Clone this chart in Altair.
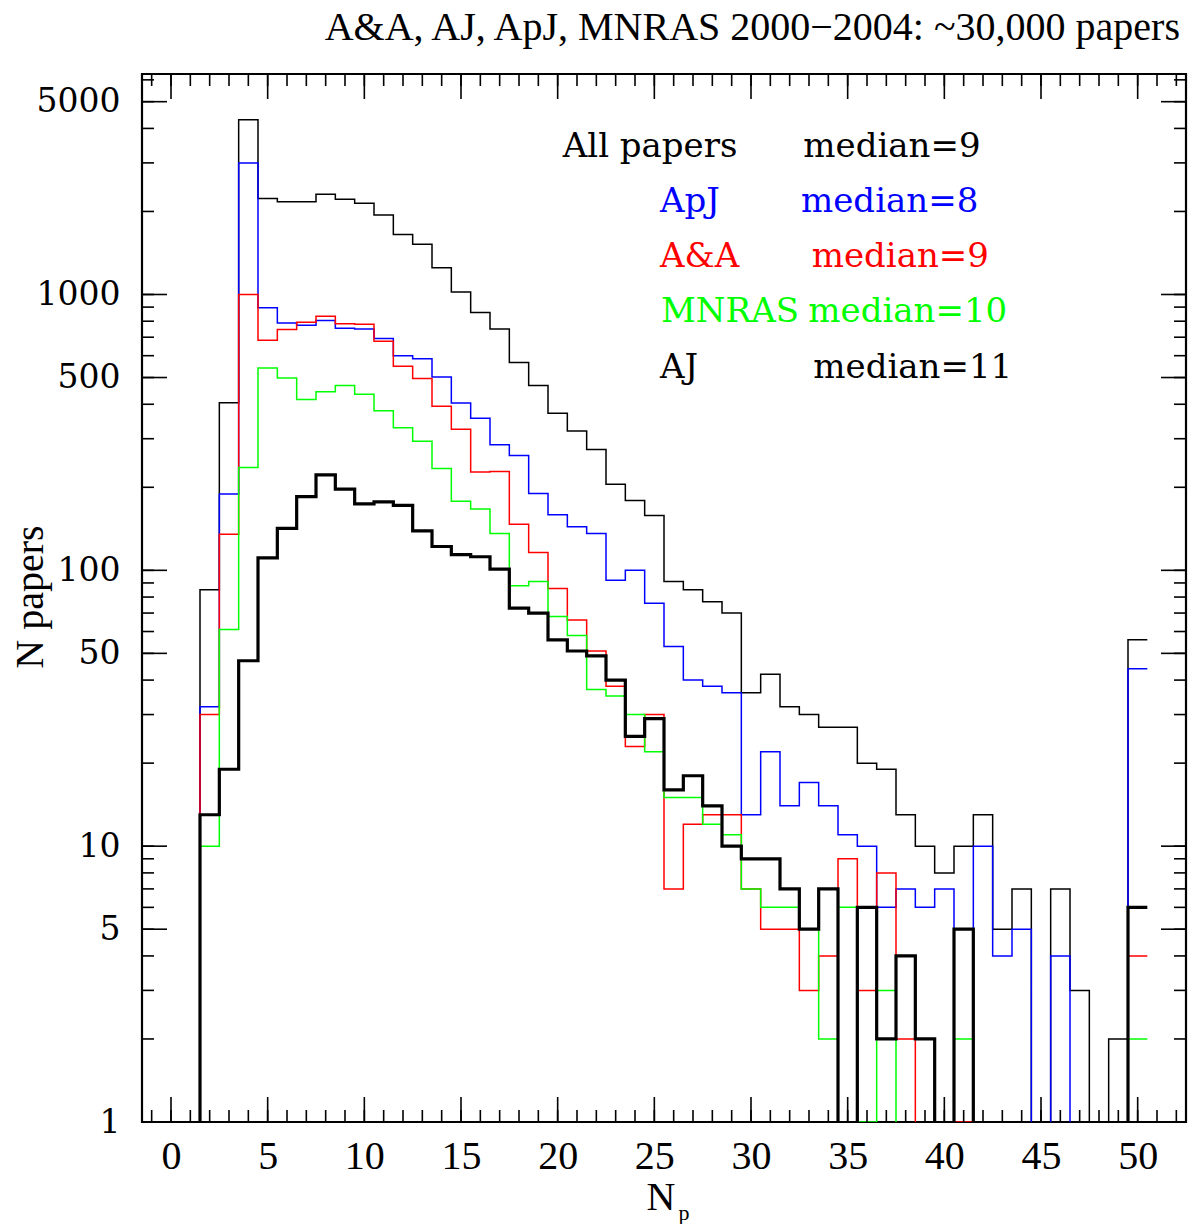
import altair as alt
import pandas as pd
import numpy as np

# ---- data (N papers per number of authors N_p = 1..50) ----
np_bins = list(range(1, 51))

all_papers = [0, 85, 405, 4300, 2230, 2170, 2170, 2310, 2215, 2140,
              1940, 1650, 1520, 1250, 1020, 860, 750, 567, 468, 371,
              320, 274, 205, 179, 158, 91, 85, 77, 70, 36,
              42, 32, 30, 27, 27, 20, 19, 13, 10, 8,
              10, 13, 5, 7, 0, 7, 3, 0, 2, 56]

apj = [0, 32, 189, 3000, 895, 789, 773, 804, 754, 750,
       692, 600, 585, 502, 404, 356, 285, 261, 190, 159,
       144, 136, 92, 100, 76, 53, 40, 38, 36, 13,
       22, 14, 17, 14, 11, 10, 6, 7, 6, 7,
       5, 10, 4, 5, 0, 4, 0, 0, 0, 44]

aa = [0, 30, 135, 1000, 682, 746, 793, 834, 784, 780,
      677, 549, 496, 393, 325, 227, 228, 147, 116, 86,
      66, 51, 38, 23, 30, 7, 12, 13, 13, 7,
      5, 5, 3, 4, 9, 3, 8, 2, 0, 0,
      1, 0, 0, 0, 0, 0, 0, 0, 0, 4]

mnras = [0, 10, 61, 236, 541, 498, 416, 444, 468, 435,
         379, 329, 294, 234, 178, 167, 136, 88, 91, 68,
         58, 37, 35, 30, 22, 15, 15, 12, 11, 7,
         6, 6, 5, 2, 6, 1, 3, 0, 0, 0,
         2, 0, 0, 0, 0, 0, 0, 0, 0, 2]

aj = [0, 13, 19, 47, 111, 142, 185, 222, 197, 174,
      177, 172, 139, 122, 114, 112, 101, 73, 70, 56,
      51, 49, 40, 25, 29, 16, 18, 14, 10, 9,
      9, 7, 5, 7, 0, 6, 2, 4, 2, 0,
      5, 0, 0, 0, 0, 0, 0, 0, 0, 6]

series_names = ["All papers", "ApJ", "A&A", "MNRAS", "AJ"]
series_values = [all_papers, apj, aa, mnras, aj]
series_colors = ["#000000", "#0000ff", "#ff0000", "#00ff00", "#000000"]
series_widths = [1.5, 1.5, 1.5, 1.5, 3.2]
medians = [9, 8, 9, 10, 11]

x_labels = list(range(0, 51, 5))
x_minor = list(range(-1, 53))
y_labels = [1, 5, 10, 50, 100, 500, 1000, 5000]
y_minor = [d * 10 ** k for k in range(4) for d in range(1, 10) if d * 10 ** k <= 6300]

W, H = 1044, 1048
XDOM = [-1.5, 52.5]
YDOM = [1, 6300]

xscale = alt.Scale(domain=XDOM, nice=False, zero=False)
yscale = alt.Scale(type="log", domain=YDOM, nice=False)


def step_df(vals):
    edges = [b - 0.5 for b in np_bins] + [np_bins[-1] + 0.5]
    v = list(vals) + [vals[-1]]
    plot_v = [x if x > 0 else 0.1 for x in v]
    return pd.DataFrame({"edge": edges, "n": plot_v})


layers = []
for name, vals, col, sw in zip(series_names, series_values, series_colors, series_widths):
    layers.append(
        alt.Chart(step_df(vals)).mark_line(
            interpolate="step-after", color=col, strokeWidth=sw, clip=True
        ).encode(
            x=alt.X("edge:Q", scale=xscale,
                    axis=alt.Axis(values=x_labels, ticks=False, domain=False, grid=False,
                                  labelFont="Liberation Serif", labelFontSize=40,
                                  labelColor="black", labelPadding=14, title=None)),
            y=alt.Y("n:Q", scale=yscale,
                    axis=alt.Axis(values=y_labels, format="d", ticks=False, domain=False, grid=False,
                                  labelFont="DejaVu Serif", labelFontSize=33,
                                  labelColor="black", labelPadding=22, title=None)),
        )
    )

tick_color = "black"
tw = 1.6
xmin_df = pd.DataFrame({"t": x_minor})
xmaj_df = pd.DataFrame({"t": x_labels})
ymin_df = pd.DataFrame({"t": y_minor})
ymaj_df = pd.DataFrame({"t": y_labels})

ticks = [
    alt.Chart(xmin_df).mark_rule(color=tick_color, strokeWidth=tw).encode(
        x=alt.X("t:Q", scale=xscale), y=alt.value(H), y2=alt.value(H - 12)),
    alt.Chart(xmin_df).mark_rule(color=tick_color, strokeWidth=tw).encode(
        x=alt.X("t:Q", scale=xscale), y=alt.value(0), y2=alt.value(12)),
    alt.Chart(xmaj_df).mark_rule(color=tick_color, strokeWidth=tw).encode(
        x=alt.X("t:Q", scale=xscale), y=alt.value(H), y2=alt.value(H - 25)),
    alt.Chart(xmaj_df).mark_rule(color=tick_color, strokeWidth=tw).encode(
        x=alt.X("t:Q", scale=xscale), y=alt.value(0), y2=alt.value(25)),
    alt.Chart(ymin_df).mark_rule(color=tick_color, strokeWidth=tw).encode(
        y=alt.Y("t:Q", scale=yscale), x=alt.value(0), x2=alt.value(12)),
    alt.Chart(ymin_df).mark_rule(color=tick_color, strokeWidth=tw).encode(
        y=alt.Y("t:Q", scale=yscale), x=alt.value(W), x2=alt.value(W - 12)),
    alt.Chart(ymaj_df).mark_rule(color=tick_color, strokeWidth=tw).encode(
        y=alt.Y("t:Q", scale=yscale), x=alt.value(0), x2=alt.value(25)),
    alt.Chart(ymaj_df).mark_rule(color=tick_color, strokeWidth=tw).encode(
        y=alt.Y("t:Q", scale=yscale), x=alt.value(W), x2=alt.value(W - 25)),
]

# ---- annotation texts ----
dummy = pd.DataFrame({"a": [0]})


def txt(text, x, y, size, color="black", font="DejaVu Serif", align="left", angle=0):
    kw = dict(text=text, font=font, fontSize=size, color=color, align=align,
              baseline="alphabetic")
    if angle:
        kw["angle"] = angle
    return alt.Chart(dummy).mark_text(**kw).encode(x=alt.value(x), y=alt.value(y))


legend_rows = [
    ("All papers", 420.7, 83.3, 661.3),
    ("ApJ", 518, 138.3, 659),
    ("A&A", 518, 192.7, 669.7),
    ("MNRAS", 519, 248.3, 666.3),
    ("AJ", 518, 303.7, 671.3),
]
texts = []
for (lab, lx, ly, mx), col, med in zip(legend_rows, series_colors, medians):
    texts.append(txt(lab, lx, ly, 34, col))
    texts.append(txt(f"median={med}", mx, ly, 34, col))

texts.append(txt("A&A, AJ, ApJ, MNRAS 2000\u22122004: ~30,000 papers", 1038, -34, 40,
                 font="Liberation Serif", align="right"))
texts.append(txt("N papers", -99, 523, 40, font="Liberation Serif", align="center", angle=270))
texts.append(txt("N", 519, 1136, 40, font="Liberation Serif", align="center"))
texts.append(txt("p", 542, 1146, 22, font="Liberation Serif", align="center"))

chart = alt.layer(*layers, *ticks, *texts).properties(
    width=W, height=H,
    autosize=alt.AutoSizeParams(type="none"),
    padding={"left": 134, "top": 66, "right": 2, "bottom": 102},
).configure_view(stroke="black", strokeWidth=2.2)

chart.save("out.html", embed_options={"renderer": "svg", "actions": False})
